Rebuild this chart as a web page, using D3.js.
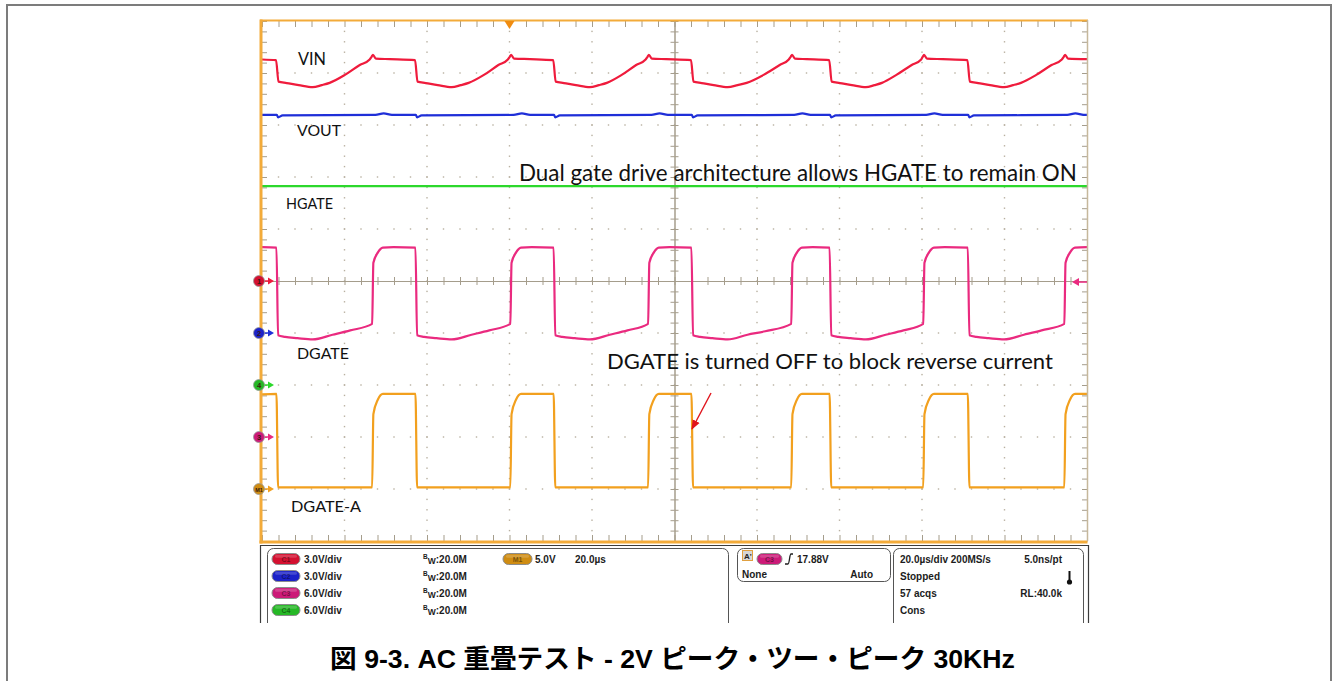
<!DOCTYPE html>
<html>
<head>
<meta charset="utf-8">
<script src="https://cdn.jsdelivr.net/npm/d3@7"></script>
<style>
  html, body { margin: 0; padding: 0; background: #fff; }
  svg { display: block; }
</style>
</head>
<body>
<svg id="scope" width="1338" height="681"></svg>
<script>
// ---------------- data ----------------
// time base: 20 µs/div, 10 divisions
const timeDomain = [0, 200];
const triggerTime = 60;          // µs, trigger position marker
const triggerLevel = 17.88;      // V on C3

// channel setup: name, trace label, volts/div, ground offset (divisions from centre)
const channelNames  = ["C1", "C2", "C3", "C4", "M1"];
const channelLabels = ["VIN", "VOUT", "DGATE", "HGATE", "DGATE-A"];
const voltsPerDiv   = [3.0, 3.0, 6.0, 6.0, 5.0];
const groundDiv     = [0, -1, -3, -2, -4];
const markerText    = ["1", "2", "3", "4", "M1"];

// VIN (C1) [µs, V]
const vinPoints = [
  [0,12.78],[3.4,12.74],[4.0,11.5],[6.0,11.42],[8.9,11.3],[12.3,11.18],[14.5,11.3],[16.4,11.43],[20.1,11.89],[23.7,12.46],[26.1,12.78],[26.6,12.95],[26.9,13.05],[27.6,12.83],[31.0,12.8],[37.1,12.74],
  [37.7,11.5],[39.7,11.42],[42.6,11.3],[46.0,11.18],[48.2,11.3],[50.1,11.43],[53.8,11.89],[57.3,12.46],[59.6,12.78],[60.1,12.95],[60.4,13.05],[61.1,12.83],[65.0,12.8],[70.6,12.74],
  [71.2,11.5],[73.2,11.42],[76.1,11.3],[79.5,11.18],[81.7,11.3],[83.6,11.43],[87.2,11.89],[90.7,12.46],[93.0,12.78],[93.5,12.95],[93.8,13.05],[94.5,12.83],[98.0,12.8],[104.0,12.74],
  [104.6,11.5],[106.6,11.42],[109.5,11.3],[112.9,11.18],[115.3,11.3],[117.5,11.43],[121.6,11.89],[125.5,12.46],[127.7,12.78],[128.2,12.95],[128.5,13.05],[129.2,12.83],[132.0,12.8],[137.5,12.74],
  [138.1,11.5],[140.1,11.42],[143.0,11.3],[146.4,11.18],[148.5,11.3],[150.3,11.43],[153.8,11.89],[157.5,12.46],[159.8,12.78],[160.2,12.95],[160.5,13.05],[161.2,12.83],[165.0,12.8],[171.0,12.74],
  [171.6,11.5],[173.6,11.42],[176.5,11.3],[179.9,11.18],[182.1,11.3],[184.0,11.43],[187.7,11.89],[191.4,12.46],[193.9,12.78],[194.4,12.95],[194.7,13.05],[195.4,12.83],[200,12.8]
];

// VOUT (C2) [µs, V]
const voutPoints = [
  [0,12.58],[3.6,12.58],[3.9,12.44],[5.0,12.55],[27.5,12.58],[29.5,12.67],[31.5,12.58],
  [37.3,12.58],[37.6,12.44],[38.7,12.55],[61.0,12.58],[63.0,12.67],[65.0,12.58],
  [70.8,12.58],[71.1,12.44],[72.2,12.55],[94.4,12.58],[96.4,12.67],[98.4,12.58],
  [104.2,12.58],[104.5,12.44],[105.6,12.55],[129.0,12.58],[131.0,12.67],[133.0,12.58],
  [137.7,12.58],[138.0,12.44],[139.1,12.55],[161.0,12.58],[163.0,12.67],[165.0,12.58],
  [171.2,12.58],[171.5,12.44],[172.6,12.55],[195.2,12.58],[197.2,12.67],[199.2,12.58],[200,12.58]
];

// DGATE (C3) [µs, V]
const dgatePoints = [
  [0,21.9],[3.5,21.85],[3.9,11.75],[5.6,11.55],[8.6,11.4],[12.3,11.26],[17.1,11.8],[21.4,12.3],[26.7,13.05],[27.0,20.1],[28.1,21.3],[29.3,21.85],[31.9,21.9],[37.2,21.85],
  [37.6,11.75],[39.3,11.55],[42.3,11.4],[46.0,11.26],[50.8,11.8],[55.1,12.3],[60.2,13.05],[60.5,20.1],[61.6,21.3],[62.8,21.85],[65.4,21.9],[70.7,21.85],
  [71.1,11.75],[72.8,11.55],[75.8,11.4],[79.5,11.26],[84.3,11.8],[88.6,12.3],[93.6,13.05],[93.9,20.1],[95.0,21.3],[96.2,21.85],[98.8,21.9],[104.1,21.85],
  [104.5,11.75],[106.2,11.55],[109.2,11.4],[112.9,11.26],[117.7,11.8],[122.0,12.2],[128.3,13.05],[128.6,20.1],[129.7,21.3],[130.9,21.85],[133.5,21.9],[137.6,21.85],
  [138.0,11.75],[139.7,11.55],[142.7,11.4],[146.4,11.26],[151.2,11.8],[155.5,12.3],[160.3,13.05],[160.6,20.1],[161.7,21.3],[162.9,21.85],[165.5,21.9],[171.1,21.85],
  [171.5,11.75],[173.2,11.55],[176.2,11.4],[179.9,11.26],[184.7,11.8],[189.0,12.3],[194.5,13.05],[194.8,20.1],[195.9,21.3],[197.1,21.85],[200,21.9]
];

// HGATE (C4) [µs, V]
const hgatePoints = [[0,22.94],[200,22.94]];

// DGATE-A (M1) [µs, V]
const dgateAPoints = [
  [0,9.1],[3.5,9.15],[3.9,0.15],[26.7,0.15],[27.0,7.2],[28.1,8.6],[29.3,9.15],[37.2,9.15],
  [37.6,0.15],[60.2,0.15],[60.5,7.2],[61.6,8.6],[62.8,9.15],[70.7,9.15],
  [71.1,0.15],[93.6,0.15],[93.9,7.2],[95.0,8.6],[96.2,9.15],[104.1,9.15],
  [104.5,0.15],[128.3,0.15],[128.6,7.2],[129.7,8.6],[130.9,9.15],[137.6,9.15],
  [138.0,0.15],[160.3,0.15],[160.6,7.2],[161.7,8.6],[162.9,9.15],[171.1,9.15],
  [171.5,0.15],[194.5,0.15],[194.8,7.2],[195.9,8.6],[197.1,9.15],[200,9.15]
];

const tracePoints = [vinPoints, voutPoints, dgatePoints, hgatePoints, dgateAPoints];

// readout panel text
const channelReadouts = ["3.0V/div", "3.0V/div", "6.0V/div", "6.0V/div"];
const bandwidthText = ":20.0M";
const mathReadout = ["5.0V", "20.0µs"];
const triggerReadout = ["17.88V", "None", "Auto"];
const timebaseReadout = ["20.0µs/div  200MS/s", "5.0ns/pt", "Stopped", "57 acqs", "RL:40.0k", "Cons"];

const annotations = [
  "Dual gate drive architecture allows HGATE to remain ON",
  "DGATE is turned OFF to block reverse current"
];
const caption = "図 9-3. AC 重畳テスト - 2V ピーク・ツー・ピーク 30KHz";

// ---------------- styling ----------------
const traceColors = { C1: "#ef1b3c", C2: "#1f2fd8", C3: "#ea2a7f", C4: "#2cd82c", M1: "#f2a01e" };
const pillColors  = { C1: "#d41030", C2: "#1c22c8", C3: "#cc1a78", C4: "#26b826", M1: "#cf8c12" };
const orange = "#f3ab3a";
const gridCol = "#b8b0a0";
const tickCol = "#a59d8c";

const svg = d3.select("#scope");

// outer figure frame
svg.append("rect").attr("x", 7).attr("y", 5).attr("width", 1324).attr("height", 720)
  .attr("fill", "none").attr("stroke", "#7c7c7c").attr("stroke-width", 2);

// ---------------- scales ----------------
const plotL = 262, plotR = 1087, plotT = 21, plotB = 541;
const X = d3.scaleLinear().domain(timeDomain).range([plotL, plotR]);
const D = d3.scaleLinear().domain([-5, 5]).range([plotB, plotT]);   // divisions
const chY = i => v => D(groundDiv[i] + v / voltsPerDiv[i]);

// ---------------- graticule ----------------
const grat = svg.append("g");
const minorT = d3.range(0, 200.001, 4);
const minorD = d3.range(-5, 5.001, 0.2);
const majorT = d3.range(20, 200, 20).filter(t => t !== 100);
const majorD = d3.range(-4, 5, 1).filter(d => d !== 0);

// dotted division lines
majorT.forEach(t => {
  grat.selectAll(null).data(minorD.slice(1, -1)).enter().append("rect")
    .attr("x", X(t) - 0.7).attr("y", d => D(d) - 0.7).attr("width", 1.4).attr("height", 1.4)
    .attr("fill", gridCol);
});
majorD.forEach(dv => {
  grat.selectAll(null).data(minorT.slice(1, -1)).enter().append("rect")
    .attr("x", t => X(t) - 0.7).attr("y", D(dv) - 0.7).attr("width", 1.4).attr("height", 1.4)
    .attr("fill", gridCol);
});

function styleAxis(g) {
  g.selectAll("path.domain").attr("stroke", tickCol).attr("stroke-width", 1);
  g.selectAll(".tick line").attr("stroke", tickCol).attr("stroke-width", 1);
  g.selectAll(".tick text").remove();
}
// edge ticks (pointing inward)
grat.append("g").attr("transform", `translate(0,${plotT})`)
  .call(d3.axisBottom(X).tickValues(minorT).tickSize(6).tickSizeOuter(0).tickFormat(""))
  .call(styleAxis).call(g => g.select("path.domain").remove());
grat.append("g").attr("transform", `translate(0,${plotB})`)
  .call(d3.axisTop(X).tickValues(minorT).tickSize(6).tickSizeOuter(0).tickFormat(""))
  .call(styleAxis).call(g => g.select("path.domain").remove());
grat.append("g").attr("transform", `translate(${plotL},0)`)
  .call(d3.axisRight(D).tickValues(minorD).tickSize(5).tickSizeOuter(0).tickFormat(""))
  .call(styleAxis).call(g => g.select("path.domain").remove());
grat.append("g").attr("transform", `translate(${plotR},0)`)
  .call(d3.axisLeft(D).tickValues(minorD).tickSize(5).tickSizeOuter(0).tickFormat(""))
  .call(styleAxis);

// centre cross with ticks on both sides
grat.append("g").attr("transform", `translate(0,${D(0)})`)
  .call(d3.axisBottom(X).tickValues(minorT).tickSize(4).tickSizeOuter(0).tickFormat("")).call(styleAxis);
grat.append("g").attr("transform", `translate(0,${D(0)})`)
  .call(d3.axisTop(X).tickValues(minorT).tickSize(4).tickSizeOuter(0).tickFormat("")).call(styleAxis);
grat.append("g").attr("transform", `translate(${X(100)},0)`)
  .call(d3.axisRight(D).tickValues(minorD).tickSize(4).tickSizeOuter(0).tickFormat("")).call(styleAxis);
grat.append("g").attr("transform", `translate(${X(100)},0)`)
  .call(d3.axisLeft(D).tickValues(minorD).tickSize(4).tickSizeOuter(0).tickFormat("")).call(styleAxis);

// ---------------- traces ----------------
svg.append("clipPath").attr("id", "screenClip").append("rect")
  .attr("x", plotL).attr("y", plotT).attr("width", plotR - plotL).attr("height", plotB - plotT);

const traces = svg.append("g").attr("clip-path", "url(#screenClip)");
const drawOrder = [3, 1, 0, 2, 4];
drawOrder.forEach(i => {
  const y = chY(i);
  const line = d3.line().x(d => X(d[0])).y(d => y(d[1])).curve(d3.curveMonotoneX);
  traces.append("path").datum(tracePoints[i])
    .attr("d", line)
    .attr("fill", "none")
    .attr("stroke", traceColors[channelNames[i]])
    .attr("stroke-width", 2.2)
    .attr("stroke-linejoin", "round");
});

// ---------------- screen border ----------------
svg.append("line").attr("x1", plotL - 2).attr("x2", plotR + 1).attr("y1", plotT - 0.5).attr("y2", plotT - 0.5)
  .attr("stroke", orange).attr("stroke-width", 2);
svg.append("rect").attr("x", plotL - 2.5).attr("y", plotT - 1.5).attr("width", 3).attr("height", plotB - plotT + 4)
  .attr("fill", orange);
svg.append("rect").attr("x", plotL - 2.5).attr("y", plotB - 0.5).attr("width", plotR - plotL + 3).attr("height", 3)
  .attr("fill", orange);
svg.append("line").attr("x1", plotR + 0.5).attr("x2", plotR + 0.5).attr("y1", plotT - 1).attr("y2", plotB)
  .attr("stroke", "#c6b89c").attr("stroke-width", 1.5);

// trigger position marker (top)
svg.append("path")
  .attr("d", `M${X(triggerTime) - 5},${plotT} L${X(triggerTime) + 5},${plotT} L${X(triggerTime)},${plotT + 8} Z`)
  .attr("fill", "#f08c10");

// trigger level marker (right edge, C3)
const trigY = chY(2)(triggerLevel);
svg.append("line").attr("x1", plotR - 9).attr("x2", plotR).attr("y1", trigY).attr("y2", trigY)
  .attr("stroke", traceColors.C3).attr("stroke-width", 1.5);
svg.append("path").attr("d", `M${plotR - 15},${trigY} L${plotR - 8},${trigY - 4} L${plotR - 8},${trigY + 4} Z`)
  .attr("fill", traceColors.C3);

// channel ground markers (left edge)
channelNames.forEach((c, i) => {
  const gy = D(groundDiv[i]);
  const g = svg.append("g");
  g.append("line").attr("x1", 262).attr("x2", 270).attr("y1", gy).attr("y2", gy)
    .attr("stroke", traceColors[c]).attr("stroke-width", 1.5);
  g.append("path").attr("d", `M${274},${gy} L${268},${gy - 3.5} L${268},${gy + 3.5} Z`).attr("fill", traceColors[c]);
  g.append("circle").attr("cx", 259).attr("cy", gy).attr("r", 5.5)
    .attr("fill", pillColors[c]).attr("stroke", "#9a9a9a").attr("stroke-width", 0.8);
  g.append("text").attr("x", 259).attr("y", gy + 2.6).attr("text-anchor", "middle")
    .attr("font-family", "Liberation Sans, Arial, sans-serif").attr("font-size", c === "M1" ? 5.5 : 7.5)
    .attr("font-weight", "bold").attr("fill", "#3a1a10").text(markerText[i]);
});

// ---------------- trace labels & notes ----------------
const labelFont = "Lato, 'Open Sans', 'Noto Sans', sans-serif";
function fitWidth(sel, w) {
  const len = sel.node().getComputedTextLength();
  const fs = parseFloat(sel.attr("font-size"));
  sel.attr("font-size", (fs * w / len).toFixed(2));
}
const labelLayout = [
  { text: channelLabels[0], x: 298, y: 65, w: 28 },
  { text: channelLabels[1], x: 297, y: 136, w: 44 },
  { text: channelLabels[3], x: 286, y: 209, w: 47 },
  { text: channelLabels[2], x: 297, y: 359, w: 52 },
  { text: channelLabels[4], x: 291, y: 512, w: 70 },
  { text: annotations[0], x: 519, y: 181, w: 558 },
  { text: annotations[1], x: 607, y: 369, w: 446 }
];
labelLayout.forEach(l => {
  const t = svg.append("text").attr("x", l.x).attr("y", l.y)
    .attr("font-family", labelFont).attr("font-size", 18).attr("fill", "#111").text(l.text);
  fitWidth(t, l.w);
});

// arrow to the DGATE-A turn-off edge
svg.append("defs").append("marker").attr("id", "redHead")
  .attr("viewBox", "0 0 10 10").attr("refX", 9).attr("refY", 5)
  .attr("markerWidth", 7).attr("markerHeight", 7).attr("orient", "auto")
  .append("path").attr("d", "M0,1 L10,5 L0,9 Z").attr("fill", "#e0141c");
svg.append("line").attr("x1", 711).attr("y1", 393).attr("x2", 692).attr("y2", 429)
  .attr("stroke", "#e0141c").attr("stroke-width", 1.4).attr("marker-end", "url(#redHead)");

// ---------------- readout panel ----------------
svg.append("clipPath").attr("id", "panelClip").append("rect")
  .attr("x", 255).attr("y", 543).attr("width", 840).attr("height", 80);
const panel = svg.append("g").attr("clip-path", "url(#panelClip)");
panel.append("path").attr("d", `M260.5,700 L260.5,545.5 L1088.5,545.5 L1088.5,700`)
  .attr("fill", "none").attr("stroke", "#3c3c3c").attr("stroke-width", 1.2);
const boxes = [[267, 548, 461, 100], [737, 548, 153, 33], [893, 548, 190, 100]];
boxes.forEach(b => panel.append("rect").attr("x", b[0] + 0.5).attr("y", b[1] + 0.5)
  .attr("width", b[2]).attr("height", b[3]).attr("rx", 6)
  .attr("fill", "none").attr("stroke", "#555").attr("stroke-width", 1));

const ro = "Liberation Sans, Arial, sans-serif";
function pill(g, x, cy, w, name) {
  g.append("rect").attr("x", x).attr("y", cy - 5.5).attr("width", w).attr("height", 11).attr("rx", 5.5)
    .attr("fill", pillColors[name]).attr("stroke", "#8c8c8c").attr("stroke-width", 1);
  g.append("rect").attr("x", x + 3).attr("y", cy - 4.2).attr("width", w - 6).attr("height", 3).attr("rx", 1.5)
    .attr("fill", "#fff").attr("opacity", 0.18);
  g.append("text").attr("x", x + w / 2).attr("y", cy + 2.5).attr("text-anchor", "middle")
    .attr("font-family", ro).attr("font-size", 7).attr("font-weight", "bold")
    .attr("fill", "rgba(0,0,0,0.45)").text(name);
}
function roText(g, x, y, s, anchor) {
  return g.append("text").attr("x", x).attr("y", y).attr("text-anchor", anchor || "start")
    .attr("font-family", ro).attr("font-size", 10).attr("font-weight", "bold").attr("fill", "#1c1c1c").text(s);
}
const rowY = [559, 576, 593, 610];
channelReadouts.forEach((s, i) => {
  pill(panel, 272, rowY[i], 28, channelNames[i === 2 ? 2 : i === 3 ? 3 : i]);
  roText(panel, 304, rowY[i] + 3.6, s);
  const bw = panel.append("text").attr("x", 423).attr("y", rowY[i] + 3.6)
    .attr("font-family", ro).attr("font-weight", "bold").attr("fill", "#1c1c1c");
  bw.append("tspan").attr("font-size", 6.5).attr("dy", -3.5).text("B");
  bw.append("tspan").attr("font-size", 8.5).attr("dy", 5).text("W");
  bw.append("tspan").attr("font-size", 10).attr("dy", -1.5).text(bandwidthText);
});
pill(panel, 503, rowY[0], 29, "M1");
roText(panel, 535, rowY[0] + 3.6, mathReadout[0]);
roText(panel, 575, rowY[0] + 3.6, mathReadout[1]);

// trigger readout
panel.append("rect").attr("x", 742.5).attr("y", 550.5).attr("width", 10).attr("height", 10)
  .attr("fill", "#d6d6d6").attr("stroke", "#e0a040").attr("stroke-width", 1);
panel.append("text").attr("x", 744).attr("y", 558.5).attr("font-family", ro).attr("font-size", 8)
  .attr("font-weight", "bold").attr("fill", "#222").text("A'");
pill(panel, 757, rowY[0], 25, "C3");
panel.append("path").attr("d", "M785,564 L788,564 C789.5,564 789.5,554 791,554 L793,554")
  .attr("fill", "none").attr("stroke", "#1c1c1c").attr("stroke-width", 1.3);
roText(panel, 797, rowY[0] + 3.6, triggerReadout[0]);
roText(panel, 742, rowY[1] + 1.5, triggerReadout[1]);
roText(panel, 873, rowY[1] + 1.5, triggerReadout[2], "end");

// timebase / acquisition readout
roText(panel, 900, rowY[0] + 3.6, timebaseReadout[0]);
roText(panel, 1062, rowY[0] + 3.6, timebaseReadout[1], "end");
roText(panel, 900, rowY[1] + 3.6, timebaseReadout[2]);
roText(panel, 900, rowY[2] + 3.6, timebaseReadout[3]);
roText(panel, 1062, rowY[2] + 3.6, timebaseReadout[4], "end");
roText(panel, 900, rowY[3] + 3.6, timebaseReadout[5]);
panel.append("line").attr("x1", 1069.5).attr("x2", 1069.5).attr("y1", 571).attr("y2", 581)
  .attr("stroke", "#111").attr("stroke-width", 2);
panel.append("circle").attr("cx", 1069.5).attr("cy", 582).attr("r", 2.6).attr("fill", "#111");

// ---------------- caption ----------------
const cap = svg.append("text").attr("x", 672.5).attr("y", 668).attr("text-anchor", "middle")
  .attr("font-family", "'Liberation Sans', Arial, 'Noto Sans CJK JP', sans-serif")
  .attr("font-weight", "bold").attr("font-size", 24).attr("fill", "#000").text(caption);
fitWidth(cap, 685);
</script>
</body>
</html>
